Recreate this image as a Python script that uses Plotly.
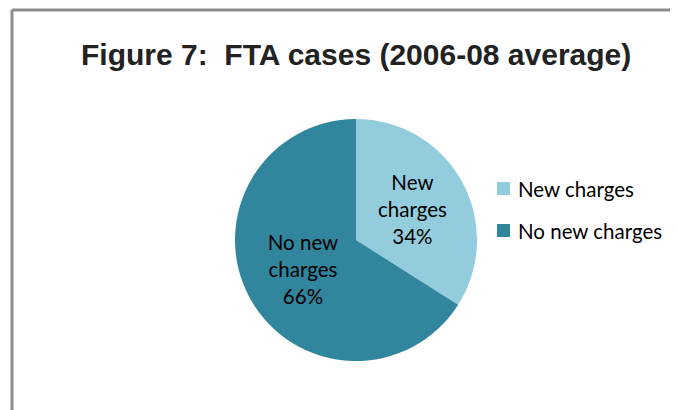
import plotly.graph_objects as go

labels = ["New charges", "No new charges"]
slice_text = ["New<br>charges", "No new<br>charges"]
values = [34, 66]
colors = ["#93CDDD", "#31859C"]
title = "Figure 7:  FTA cases (2006-08 average)"

# page body has an 8px margin; figure is sized / positioned to compensate
OFF = 8
W, H = 678 - OFF, 410 - OFF


def px(x):
    return (x - OFF) / W


def py(y):
    return 1 - (y - OFF) / H


fig = go.Figure()
fig.add_trace(go.Pie(
    labels=labels, values=values, text=slice_text,
    texttemplate="%{text}<br>%{percent:.0%}",
    textinfo="text",
    textposition="inside", insidetextorientation="horizontal",
    textfont=dict(family="Lato", size=20.5, color="#000000"),
    marker=dict(colors=colors, line=dict(width=0)),
    sort=False, direction="clockwise", rotation=0,
    hole=0, showlegend=False,
    domain=dict(x=[px(235), px(477)], y=[py(361), py(119)]),
))

shapes = [
    dict(type="line", xref="paper", yref="paper", x0=px(12), x1=1.0, y0=py(10), y1=py(10),
         line=dict(color="#8c8c8c", width=3)),
    dict(type="line", xref="paper", yref="paper", x0=px(12), x1=px(12), y0=0, y1=py(10),
         line=dict(color="#8c8c8c", width=3)),
]
annotations = [
    dict(text=f"<b>{title}</b>", x=px(356), y=py(55), xref="paper", yref="paper",
         showarrow=False, xanchor="center", yanchor="middle",
         font=dict(family="Liberation Sans", size=30, color="#222222")),
]
leg_y = [189, 231]
for lab, col, yy in zip(labels, colors, leg_y):
    shapes.append(dict(type="rect", xref="paper", yref="paper",
                       x0=px(497), x1=px(510), y0=py(yy + 6), y1=py(yy - 7),
                       fillcolor=col, line=dict(width=0)))
    annotations.append(dict(text=lab, x=px(516), y=py(yy), xref="paper", yref="paper",
                            showarrow=False, xanchor="left", yanchor="middle",
                            font=dict(family="Lato", size=20.5, color="#000000")))

fig.update_layout(
    width=W, height=H, margin=dict(l=0, r=0, t=0, b=0),
    paper_bgcolor="white", plot_bgcolor="white",
    shapes=shapes, annotations=annotations,
)
fig.write_html("out.html")
